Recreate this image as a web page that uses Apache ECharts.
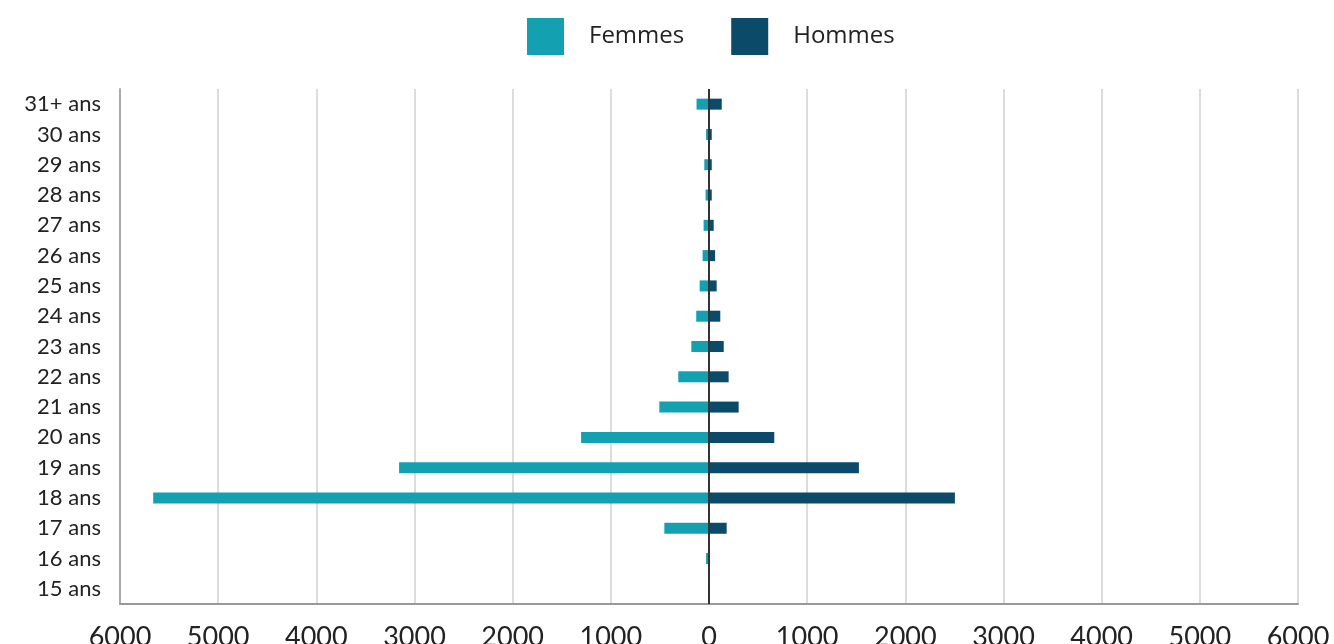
<!DOCTYPE html>
<html>
<head>
<meta charset="utf-8">
<script src="https://cdn.jsdelivr.net/npm/echarts@6/dist/echarts.min.js"></script>
<style>
  html, body { margin: 0; padding: 0; background: #fff; }
  #chart { width: 1334px; height: 644px; }
</style>
</head>
<body>
<div id="chart"></div>
<script>
// tranches d'âge, du bas vers le haut
const categories = ["15 ans", "16 ans", "17 ans", "18 ans", "19 ans", "20 ans", "21 ans", "22 ans", "23 ans",
  "24 ans", "25 ans", "26 ans", "27 ans", "28 ans", "29 ans", "30 ans", "31+ ans"];
const femmes = [8, 30, 455, 5662, 3157, 1303, 506, 313, 180, 130, 95, 65, 55, 35, 48, 30, 127];
const hommes = [2, 5, 180, 2505, 1527, 665, 302, 200, 150, 115, 78, 62, 48, 28, 28, 28, 130];
const xTicks = [-6000, 6000, 1000]; // min, max, pas

const chart = echarts.init(document.getElementById("chart"));

chart.setOption({
  animation: false,
  color: ["#13a1b2", "#0c4a69"],
  legend: {
    top: 13,
    left: 522,
    itemWidth: 37,
    itemHeight: 37,
    itemGap: 47,
    icon: "rect",
    textStyle: { fontFamily: "Open Sans", fontSize: 24, color: "#222", padding: [0, 0, 0, 20] },
    data: ["Femmes", "Hommes"],
  },
  // labels du bas volontairement coupés comme dans l'original
  grid: { left: 120, right: 36, top: 89, bottom: 40, containLabel: false, outerBoundsMode: "none" },
  xAxis: {
    type: "value",
    min: xTicks[0],
    max: xTicks[1],
    interval: xTicks[2],
    axisLine: { show: true, lineStyle: { color: "#999", width: 2 } },
    axisTick: { show: false },
    splitLine: { show: true, lineStyle: { color: "#dcdcdc", width: 2 } },
    axisLabel: {
      fontFamily: "Lato",
      fontSize: 27,
      color: "#222",
      margin: 20,
      formatter: (v) => Math.abs(v),
    },
  },
  yAxis: {
    type: "category",
    data: categories,
    axisLine: { show: true, onZero: false, lineStyle: { color: "#aaa", width: 2 } },
    axisTick: { show: false },
    axisLabel: { fontFamily: "Lato", fontSize: 22, color: "#222", margin: 19 },
  },
  series: [
    {
      name: "Femmes",
      type: "bar",
      stack: "pyr",
      barWidth: 11,
      data: femmes.map((v) => -v),
    },
    {
      name: "Hommes",
      type: "bar",
      stack: "pyr",
      barWidth: 11,
      data: hommes,
      markLine: {
        silent: true,
        symbol: "none",
        label: { show: false },
        lineStyle: { color: "#333", width: 2, type: "solid" },
        data: [{ xAxis: 0 }],
      },
    },
  ],
});
</script>
</body>
</html>
